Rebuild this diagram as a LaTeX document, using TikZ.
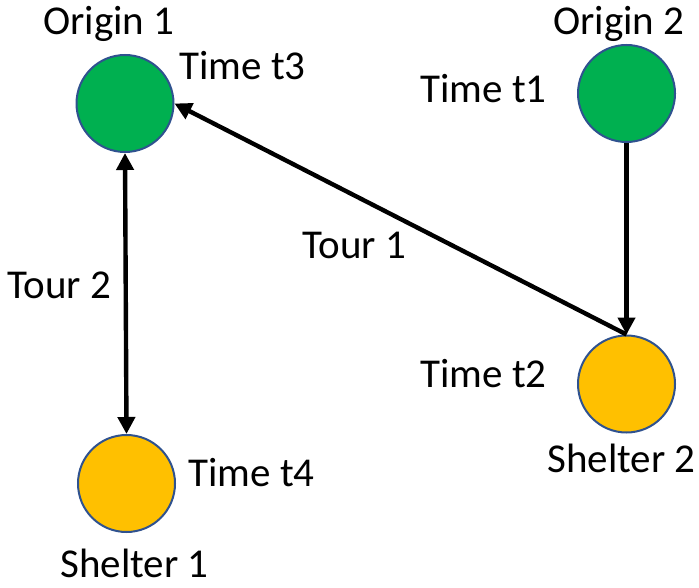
\documentclass[tikz,border=0pt]{standalone}
\usepackage{fontspec}
\setmainfont{Carlito}
\usetikzlibrary{arrows.meta}
\definecolor{placegreen}{HTML}{00B050}
\definecolor{shelterorange}{HTML}{FFC000}
\definecolor{rimblue}{HTML}{2F528F}
\tikzset{
  site/.style={circle, draw=rimblue, line width=1pt, minimum size=48.5pt, inner sep=0pt},
  origin/.style={site, fill=placegreen},
  shelter/.style={site, fill=shelterorange},
  lbl/.style={anchor=base west, inner sep=0pt, font=\fontsize{20.5}{24}\selectfont},
  tour/.style={line width=2.2pt, -{Triangle[length=8.5pt,width=8.5pt]}},
  tourboth/.style={line width=2.2pt, {Triangle[length=8.5pt,width=8.5pt]}-{Triangle[length=8.5pt,width=8.5pt]}}
}
\begin{document}
\begin{tikzpicture}[x=0.5pt,y=-0.5pt]
  \useasboundingbox (0,0) rectangle (699,587);
  % locations
  \node[origin]  (o1) at (125,103.5) {};
  \node[origin]  (o2) at (626.5,93.5) {};
  \node[shelter] (s2) at (626.5,384) {};
  \node[shelter] (s1) at (126.5,483.5) {};
  % labels
  \node[lbl] (lo1) at (43,35)  {Origin 1};
  \node[lbl] (lt3) at (179,80) {Time t3};
  \node[lbl] (lo2) at (553,35) {Origin 2};
  \node[lbl] (lt1) at (420,103) {Time t1};
  \node[lbl] (ltour1) at (302,258) {Tour 1};
  \node[lbl] (ltour2) at (7,298) {Tour 2};
  \node[lbl] (lt2) at (420,387) {Time t2};
  \node[lbl] (ls2) at (547,472) {Shelter 2};
  \node[lbl] (lt4) at (188,486) {Time t4};
  \node[lbl] (ls1) at (60,577) {Shelter 1};
  % tours
  \draw[tour] (o2.south) -- (s2.north);
  \draw[tour] (s2.north) -- (o1.east);
  \draw[tourboth] (o1.south) -- (s1.north);
\end{tikzpicture}
\end{document}
